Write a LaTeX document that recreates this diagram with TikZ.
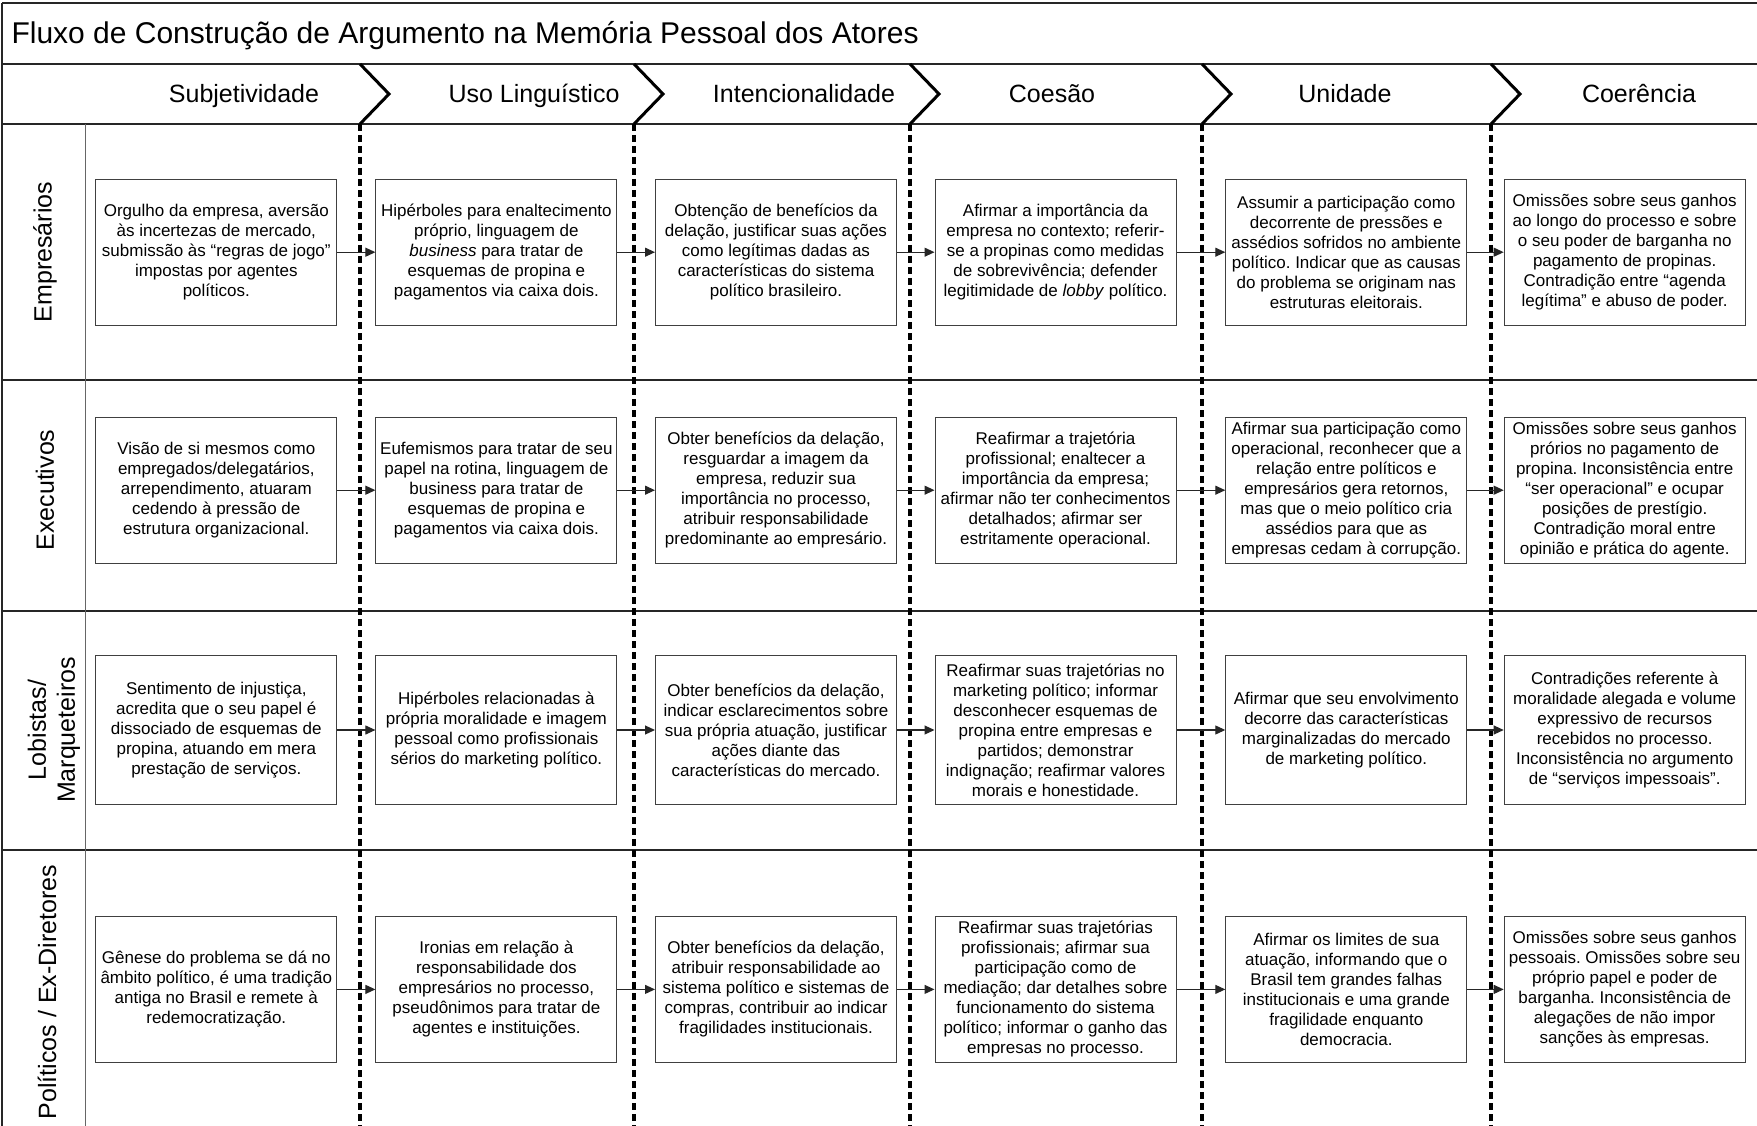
\documentclass[tikz,border=0pt]{standalone}
\usepackage{fontspec}
\setmainfont{Liberation Sans}
\usetikzlibrary{arrows.meta}
\frenchspacing
\begin{document}
\begin{tikzpicture}[x=1pt,y=-1pt,
  box/.style={draw=black!75, line width=1pt, fill=white, align=center,
    font=\fontsize{17}{20}\selectfont, inner sep=2pt,
    minimum width=241pt, minimum height=146pt},
  tallbox/.style={box, minimum height=149pt},
  arr/.style={draw=black!85, line width=1.1pt, -{Triangle[length=10pt,width=9pt]}},
  sepline/.style={black, line width=3.5pt, dash pattern=on 7pt off 4pt},
  frameline/.style={black!85, line width=1.6pt},
  laneline/.style={black!60, line width=1pt},
  chev/.style={black, line width=3pt},
  hdr/.style={font=\fontsize{25}{30}\selectfont, anchor=base},
  ttl/.style={font=\fontsize{30}{36}\selectfont, anchor=base west},
  lane/.style={font=\fontsize{25}{29}\selectfont, rotate=90, align=center}]
\useasboundingbox (0,0) rectangle (1757,1126);
\fill[white] (0,0) rectangle (1757,1126);

% frame
\draw[frameline] (2,3) -- (1757,3);
\draw[frameline] (2,3) -- (2,1126);
\draw[frameline] (2,64) -- (1757,64);
\draw[frameline] (2,124) -- (1757,124);
\draw[frameline] (2,380) -- (1757,380);
\draw[frameline] (2,611) -- (1757,611);
\draw[frameline] (2,850) -- (1757,850);
\draw[laneline] (85,124) -- (85,1126);

% title
\node[ttl] (title) at (8,44) {Fluxo de Construção de Argumento na Memória Pessoal dos Atores};

% phase header
\node[hdr] (h1) at (244,103) {Subjetividade};
\node[hdr] (h2) at (534,103) {Uso Linguístico};
\node[hdr] (h3) at (804,103) {Intencionalidade};
\node[hdr] (h4) at (1052,103) {Coesão};
\node[hdr] (h5) at (1345,103) {Unidade};
\node[hdr] (h6) at (1639,103) {Coerência};

\foreach \x in {360,634,910,1202,1491}{
  \draw[chev] (\x,64) -- (\x+29,94) -- (\x,124);
  \draw[sepline] (\x,124) -- (\x,1126);
}

% lane labels
\node[lane] (l1) at (45,252) {Empresários};
\node[lane] (l2) at (45,490) {Executivos};
\node[lane] (l3) at (54,730) {Lobistas/\\Marqueteiros};
\node[lane] (l4) at (47,992) {Políticos / Ex-Diretores};

% row 1
\node[box] (b11) at (216.3,252.2) {Orgulho da empresa, aversão\\às incertezas de mercado,\\submissão às “regras de jogo”\\impostas por agentes\\políticos.};
\node[box] (b12) at (496.4,252.2) {Hipérboles para enaltecimento\\próprio, linguagem de\\\textit{business} para tratar de\\esquemas de propina e\\pagamentos via caixa dois.};
\node[box] (b13) at (776,252.2) {Obtenção de benefícios da\\delação, justificar suas ações\\como legítimas dadas as\\características do sistema\\político brasileiro.};
\node[box] (b14) at (1055.5,252.2) {Afirmar a importância da\\empresa no contexto; referir-\\se a propinas como medidas\\de sobrevivência; defender\\legitimidade de \textit{lobby} político.};
\node[box] (b15) at (1346.3,252.2) {Assumir a participação como\\decorrente de pressões e\\assédios sofridos no ambiente\\político. Indicar que as causas\\do problema se originam nas\\estruturas eleitorais.};
\node[box] (b16) at (1624.7,252.2) {Omissões sobre seus ganhos\\ao longo do processo e sobre\\o seu poder de barganha no\\pagamento de propinas.\\Contradição entre “agenda\\legítima” e abuso de poder.};

% row 2
\node[box] (b21) at (216.3,490.2) {Visão de si mesmos como\\empregados/delegatários,\\arrependimento, atuaram\\cedendo à pressão de\\estrutura organizacional.};
\node[box] (b22) at (496.4,490.2) {Eufemismos para tratar de seu\\papel na rotina, linguagem de\\business para tratar de\\esquemas de propina e\\pagamentos via caixa dois.};
\node[box] (b23) at (776,490.2) {Obter benefícios da delação,\\resguardar a imagem da\\empresa, reduzir sua\\importância no processo,\\atribuir responsabilidade\\predominante ao empresário.};
\node[box] (b24) at (1055.5,490.2) {Reafirmar a trajetória\\profissional; enaltecer a\\importância da empresa;\\afirmar não ter conhecimentos\\detalhados; afirmar ser\\estritamente operacional.};
\node[box] (b25) at (1346.3,490.2) {Afirmar sua participação como\\operacional, reconhecer que a\\relação entre políticos e\\empresários gera retornos,\\mas que o meio político cria\\assédios para que as\\empresas cedam à corrupção.};
\node[box] (b26) at (1624.7,490.2) {Omissões sobre seus ganhos\\prórios no pagamento de\\propina. Inconsistência entre\\“ser operacional” e ocupar\\posições de prestígio.\\Contradição moral entre\\opinião e prática do agente.};

% row 3
\node[tallbox] (b31) at (216.3,730) {Sentimento de injustiça,\\acredita que o seu papel é\\dissociado de esquemas de\\propina, atuando em mera\\prestação de serviços.};
\node[tallbox] (b32) at (496.4,730) {Hipérboles relacionadas à\\própria moralidade e imagem\\pessoal como profissionais\\sérios do marketing político.};
\node[tallbox] (b33) at (776,730) {Obter benefícios da delação,\\indicar esclarecimentos sobre\\sua própria atuação, justificar\\ações diante das\\características do mercado.};
\node[tallbox] (b34) at (1055.5,730) {Reafirmar suas trajetórias no\\marketing político; informar\\desconhecer esquemas de\\propina entre empresas e\\partidos; demonstrar\\indignação; reafirmar valores\\morais e honestidade.};
\node[tallbox] (b35) at (1346.3,730) {Afirmar que seu envolvimento\\decorre das características\\marginalizadas do mercado\\de marketing político.};
\node[tallbox] (b36) at (1624.7,730) {Contradições referente à\\moralidade alegada e volume\\expressivo de recursos\\recebidos no processo.\\Inconsistência no argumento\\de “serviços impessoais”.};

% row 4
\node[box] (b41) at (216.3,989.4) {Gênese do problema se dá no\\âmbito político, é uma tradição\\antiga no Brasil e remete à\\redemocratização.};
\node[box] (b42) at (496.4,989.4) {Ironias em relação à\\responsabilidade dos\\empresários no processo,\\pseudônimos para tratar de\\agentes e instituições.};
\node[box] (b43) at (776,989.4) {Obter benefícios da delação,\\atribuir responsabilidade ao\\sistema político e sistemas de\\compras, contribuir ao indicar\\fragilidades institucionais.};
\node[box] (b44) at (1055.5,989.4) {Reafirmar suas trajetórias\\profissionais; afirmar sua\\participação como de\\mediação; dar detalhes sobre\\funcionamento do sistema\\político; informar o ganho das\\empresas no processo.};
\node[box] (b45) at (1346.3,989.4) {Afirmar os limites de sua\\atuação, informando que o\\Brasil tem grandes falhas\\institucionais e uma grande\\fragilidade enquanto\\democracia.};
\node[box] (b46) at (1624.7,989.4) {Omissões sobre seus ganhos\\pessoais. Omissões sobre seu\\próprio papel e poder de\\barganha. Inconsistência de\\alegações de não impor\\sanções às empresas.};

% arrows
\foreach \r in {1,2,3,4}{
  \draw[arr] (b\r1.east) -- (b\r2.west);
  \draw[arr] (b\r2.east) -- (b\r3.west);
  \draw[arr] (b\r3.east) -- (b\r4.west);
  \draw[arr] (b\r4.east) -- (b\r5.west);
  \draw[arr] (b\r5.east) -- (b\r6.west);
}
\end{tikzpicture}
\end{document}
